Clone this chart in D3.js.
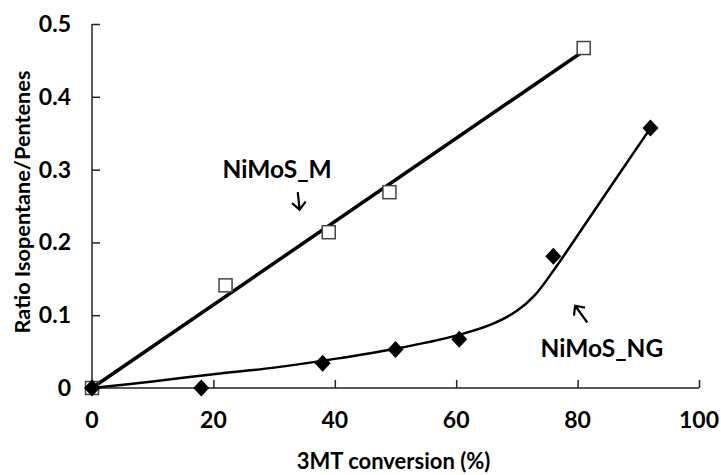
<!DOCTYPE html>
<html>
<head>
<meta charset="utf-8" />
<style>
body { margin: 0; background: #fff; }
text { font-family: Lato, "Open Sans", sans-serif; font-weight: bold; fill: #000; }
.axis path, .axis line { stroke: #222; stroke-width: 1.5px; }
</style>
</head>
<body>
<script src="https://cdn.jsdelivr.net/npm/d3@7"></script>
<script>
// measured points
var mConv = [0, 22, 39, 49, 81];
var mRatio = [0, 0.141, 0.214, 0.269, 0.467];
var ngConv = [0, 18, 38, 50, 60.5, 76, 92];
var ngRatio = [0, 0, 0.034, 0.053, 0.067, 0.181, 0.357];

// trend lines as drawn
var mFitConv = [0, 81];
var mFitRatio = [0, 0.463];
var ngFitConv = [0, 10, 20, 30, 40, 50, 60, 66, 70, 73, 76.5, 84, 92];
var ngFitRatio = [0, 0.009, 0.019, 0.028, 0.040, 0.054, 0.072, 0.088, 0.106, 0.128, 0.167, 0.259, 0.357];

var xTicks = [0, 20, 40, 60, 80, 100];
var yTicks = [0, 0.1, 0.2, 0.3, 0.4, 0.5];

var width = 721, height = 475;
var margin = {left: 92, right: 22, top: 24, bottom: 87};

var svg = d3.select("body").append("svg")
    .attr("width", width)
    .attr("height", height);

var x = d3.scaleLinear().domain([0, 100]).range([margin.left, width - margin.right]);
var y = d3.scaleLinear().domain([0, 0.5]).range([height - margin.bottom, margin.top]);

var zip = function(a, b) { return a.map(function(v, i) { return [v, b[i]]; }); };

// axes, ticks inside
svg.append("g")
    .attr("class", "axis")
    .attr("transform", "translate(0," + y(0) + ")")
    .call(d3.axisTop(x).tickValues(xTicks).tickSize(8).tickFormat(""))
    .call(function(g) { g.select(".domain").attr("d", "M" + x(0) + ",0H" + x(100)); });

svg.append("g")
    .attr("class", "axis")
    .attr("transform", "translate(" + x(0) + ",0)")
    .call(d3.axisRight(y).tickValues(yTicks).tickSize(8).tickFormat(""))
    .call(function(g) { g.select(".domain").attr("d", "M0," + y(0) + "V" + y(0.5)); });

svg.selectAll(".xlab")
    .data(xTicks)
  .enter().append("text")
    .attr("class", "xlab")
    .attr("x", function(d) { return x(d); })
    .attr("y", y(0) + 40)
    .attr("text-anchor", "middle")
    .style("font-size", "23px")
    .text(function(d) { return d; });

svg.selectAll(".ylab")
    .data(yTicks)
  .enter().append("text")
    .attr("class", "ylab")
    .attr("x", x(0) - 21)
    .attr("y", function(d) { return y(d) + 8; })
    .attr("text-anchor", "end")
    .style("font-size", "23px")
    .text(function(d) { return d === 0 ? "0" : d3.format(".1f")(d); });

svg.append("text")
    .attr("x", (x(0) + x(100)) / 2 - 2)
    .attr("y", 469)
    .attr("text-anchor", "middle")
    .style("font-size", "22px")
    .text("3MT conversion (%)");

svg.append("text")
    .attr("transform", "translate(30," + ((y(0) + y(0.5)) / 2 - 4) + ") rotate(-90)")
    .attr("text-anchor", "middle")
    .style("font-size", "21.7px")
    .text("Ratio Isopentane/Pentenes");

var line = d3.line()
    .x(function(d) { return x(d[0]); })
    .y(function(d) { return y(d[1]); });

svg.append("path")
    .datum(zip(mFitConv, mFitRatio))
    .attr("d", line)
    .attr("fill", "none")
    .attr("stroke", "#000")
    .attr("stroke-width", 3.5);

svg.append("path")
    .datum(zip(ngFitConv, ngFitRatio))
    .attr("d", line.curve(d3.curveCatmullRom.alpha(0.5)))
    .attr("fill", "none")
    .attr("stroke", "#000")
    .attr("stroke-width", 2.5);

svg.selectAll(".sq")
    .data(zip(mConv, mRatio))
  .enter().append("rect")
    .attr("class", "sq")
    .attr("x", function(d) { return x(d[0]) - 6.5; })
    .attr("y", function(d) { return y(d[1]) - 6.5; })
    .attr("width", 13)
    .attr("height", 13)
    .attr("fill", "#fff")
    .attr("fill-opacity", function(d) { return d[0] === 0 ? 0 : 1; })
    .attr("stroke", "#444")
    .attr("stroke-width", 1.5);

svg.selectAll(".dm")
    .data(zip(ngConv, ngRatio))
  .enter().append("path")
    .attr("class", "dm")
    .attr("transform", function(d) { return "translate(" + x(d[0]) + "," + y(d[1]) + ")"; })
    .attr("d", "M0,-8.5L8,0L0,8.5L-8,0Z")
    .attr("fill", "#000");

// labels with little arrows
var notes = [
    {text: "NiMoS_M", tx: 30.5, ty: 0.289, from: [33.9, 0.269], to: [34.2, 0.245]},
    {text: "NiMoS_NG", tx: 84.0, ty: 0.043, from: [81.6, 0.090], to: [79.6, 0.113]}
];

notes.forEach(function(n) {
    svg.append("text")
        .attr("x", x(n.tx))
        .attr("y", y(n.ty))
        .attr("text-anchor", "middle")
        .style("font-size", "24.5px")
        .text(n.text);

    var x1 = x(n.from[0]), y1 = y(n.from[1]);
    var x2 = x(n.to[0]), y2 = y(n.to[1]);
    var a = Math.atan2(y2 - y1, x2 - x1);
    var h = 10, s = 0.75;
    var head = "M" + (x2 - h * Math.cos(a - s)) + "," + (y2 - h * Math.sin(a - s)) +
        "L" + x2 + "," + y2 +
        "L" + (x2 - h * Math.cos(a + s)) + "," + (y2 - h * Math.sin(a + s));
    svg.append("path")
        .attr("d", "M" + x1 + "," + y1 + "L" + x2 + "," + y2 + head)
        .attr("fill", "none")
        .attr("stroke", "#000")
        .attr("stroke-width", 2.2)
        .attr("stroke-linejoin", "miter");
});
</script>
</body>
</html>
